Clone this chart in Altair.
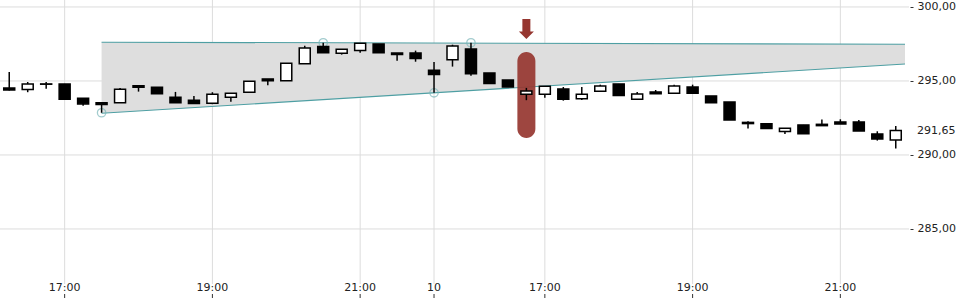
import altair as alt
import pandas as pd

# ---- data (15-minute candles, two sessions) ----
opens = [294.53, 294.42, 294.78, 294.80, 293.83, 293.53, 293.53, 294.68, 294.57, 293.90,
         293.70, 293.49, 293.90, 294.24, 295.14, 295.02, 296.17, 297.32, 296.87, 297.05,
         297.50, 296.89, 296.89, 295.72, 296.44, 297.16, 295.54, 295.07, 294.10, 294.10,
         294.46, 293.80, 294.30, 294.80, 293.76, 294.26, 294.17, 294.59, 293.99, 293.58,
         292.20, 292.11, 291.58, 292.03, 292.07, 292.23, 292.23, 291.42, 291.01]
highs = [295.61, 294.93, 294.93, 294.80, 293.83, 293.53, 294.53, 294.68, 294.57, 294.26,
         293.99, 294.24, 294.17, 294.98, 295.14, 296.20, 297.38, 297.58, 297.14, 297.55,
         297.50, 296.89, 297.05, 296.28, 297.45, 297.58, 295.54, 295.07, 294.53, 294.64,
         294.59, 294.59, 294.75, 294.80, 294.26, 294.39, 294.75, 294.75, 293.99, 293.58,
         292.28, 292.11, 291.80, 292.03, 292.39, 292.41, 292.36, 291.60, 291.96]
lows = [294.35, 294.24, 294.48, 293.76, 293.33, 292.85, 293.53, 294.28, 294.14, 293.53,
        293.47, 293.43, 293.60, 294.24, 294.71, 295.02, 296.17, 296.91, 296.78, 296.91,
        296.91, 296.37, 296.30, 294.20, 295.97, 295.36, 294.82, 294.59, 293.70, 293.87,
        293.67, 293.72, 294.30, 294.01, 293.76, 294.14, 294.17, 294.17, 293.53, 292.36,
        291.78, 291.78, 291.42, 291.44, 291.98, 292.09, 291.62, 290.97, 290.43]
closes = [294.39, 294.80, 294.80, 293.76, 293.45, 293.41, 294.44, 294.57, 294.14, 293.53,
          293.47, 294.10, 294.17, 294.98, 295.02, 296.20, 297.23, 296.91, 297.14, 297.55,
          296.91, 296.78, 296.51, 295.43, 297.36, 295.49, 294.82, 294.59, 294.32, 294.64,
          293.76, 294.10, 294.66, 294.01, 294.12, 294.14, 294.66, 294.17, 293.53, 292.36,
          292.12, 291.78, 291.80, 291.44, 291.98, 292.09, 291.62, 291.08, 291.65]
slots = list(range(len(opens)))

# x-axis ticks (slot index -> label)
tick_slots = [3, 11, 19, 23, 29, 37, 45]
tick_labels = ["17:00", "19:00", "21:00", "10", "17:00", "19:00", "21:00"]

# y-axis ticks
y_ticks = [285.0, 290.0, 295.0, 300.0]
last_price = [291.65]

# wedge pattern (two trend lines)
wedge_slots = [5, 48.5]
wedge_upper = [297.62, 297.48]
wedge_lower = [292.82, 296.15]
pivot_slots = [5, 17, 23, 25]
pivot_values = [292.85, 297.58, 294.20, 297.58]

# highlighted candle
hl_slot = [28]
hl_top = [296.96]
hl_bottom = [291.15]
arrow_value = [298.51]

# ---- build ----
W, H = 905, 300
XDOM = [-0.5, 48.5]
YDOM = [280.20, 300.47]
FONT = "DejaVu Sans"
GRID = "#dcdcdc"
TEAL = "#4e9fa3"
RED = "#963630"

candles = pd.DataFrame({"slot": slots, "open": opens, "high": highs,
                        "low": lows, "close": closes})
candles["dir"] = ["down" if c < o else "up" for o, c in zip(opens, closes)]

xs = alt.Scale(domain=XDOM, nice=False, zero=False, padding=0)
ys = alt.Scale(domain=YDOM, nice=False, zero=False, padding=0)

y_axis = alt.Axis(orient="right", values=y_ticks, grid=False,
                  domain=False, tickSize=8, tickDash=[0, 5, 3, 50], tickColor="#333",
                  labelPadding=4, labelFont=FONT, labelFontSize=11, labelColor="#222",
                  labelExpr="replace(format(datum.value, '.2f'), '.', ',')", title=None)

base = alt.Chart(candles)
ticks_df = pd.DataFrame({"t": tick_slots, "lab": tick_labels})

vgrid = alt.Chart(ticks_df).mark_rule(color=GRID, strokeWidth=1).encode(
    x=alt.X("t:Q", scale=xs, axis=None), y=alt.value(0), y2=alt.value(284))
xticks = alt.Chart(ticks_df).mark_rule(color="#333", strokeWidth=1).encode(
    x=alt.X("t:Q", scale=xs), y=alt.value(294), y2=alt.value(298))
xlabels = alt.Chart(ticks_df).mark_text(
    font=FONT, fontSize=11, color="#222", baseline="middle", align="center").encode(
    x=alt.X("t:Q", scale=xs), y=alt.value(287.5), text="lab:N")
hgrid = alt.Chart(pd.DataFrame({"v": y_ticks})).mark_rule(
    color=GRID, strokeWidth=1).encode(
    y=alt.Y("v:Q", scale=ys, axis=y_axis), x=alt.value(0), x2=alt.value(909))

wedge_df = pd.DataFrame({"slot": wedge_slots, "upper": wedge_upper, "lower": wedge_lower})
wedge_area = alt.Chart(wedge_df).mark_area(color="#dedede", opacity=1).encode(
    x=alt.X("slot:Q", scale=xs), y=alt.Y("upper:Q", scale=ys), y2="lower:Q")
wedge_up = alt.Chart(wedge_df).mark_line(color=TEAL, strokeWidth=1.1).encode(
    x=alt.X("slot:Q", scale=xs), y=alt.Y("upper:Q", scale=ys))
wedge_lo = alt.Chart(wedge_df).mark_line(color=TEAL, strokeWidth=1.1).encode(
    x=alt.X("slot:Q", scale=xs), y=alt.Y("lower:Q", scale=ys))
pivots = alt.Chart(pd.DataFrame({"slot": pivot_slots, "v": pivot_values})).mark_point(
    shape="circle", filled=False, color="#7cb7ba", size=70, strokeWidth=1.3).encode(
    x=alt.X("slot:Q", scale=xs), y=alt.Y("v:Q", scale=ys))

hl = alt.Chart(pd.DataFrame({"slot": hl_slot, "top": hl_top, "bot": hl_bottom})).mark_bar(
    size=18, cornerRadius=9, color=RED, opacity=0.92).encode(
    x=alt.X("slot:Q", scale=xs), y=alt.Y("top:Q", scale=ys), y2="bot:Q")

arrow_path = "M-0.4,-1 L0.4,-1 L0.4,0.25 L0.75,0.25 L0,1 L-0.75,0.25 L-0.4,0.25 Z"
arrow = alt.Chart(pd.DataFrame({"slot": hl_slot, "v": arrow_value})).mark_point(
    shape=arrow_path, filled=True, color=RED, size=400, opacity=1, strokeWidth=0).encode(
    x=alt.X("slot:Q", scale=xs), y=alt.Y("v:Q", scale=ys))

wicks = base.mark_rule(color="#000", strokeWidth=1.5).encode(
    x=alt.X("slot:Q", scale=xs), y=alt.Y("low:Q", scale=ys), y2="high:Q")
bodies = base.mark_bar(size=11, stroke="#000", strokeWidth=1.5).encode(
    x=alt.X("slot:Q", scale=xs), y=alt.Y("open:Q", scale=ys), y2="close:Q",
    fill=alt.Fill("dir:N", scale=alt.Scale(domain=["down", "up"], range=["#000", "#fff"]),
                  legend=None))

last_lbl = alt.Chart(pd.DataFrame({"v": last_price})).transform_calculate(
    lab="replace(format(datum.v, '.2f'), '.', ',')").mark_text(
    align="left", baseline="middle", font=FONT, fontSize=11, color="#222").encode(
    x=alt.value(917), y=alt.Y("v:Q", scale=ys), text="lab:N")

chart = alt.layer(vgrid, hgrid, xticks, xlabels, wedge_area, wedge_up, wedge_lo, pivots,
                  hl, arrow, wicks, bodies, last_lbl).properties(
    width=W, height=H, background="white",
    autosize=alt.AutoSizeParams(type="none"),
    padding={"left": 0, "right": 55, "top": 0, "bottom": 0},
).configure_view(stroke=None)

chart.save("out.html", embed_options={"renderer": "svg", "actions": False})
